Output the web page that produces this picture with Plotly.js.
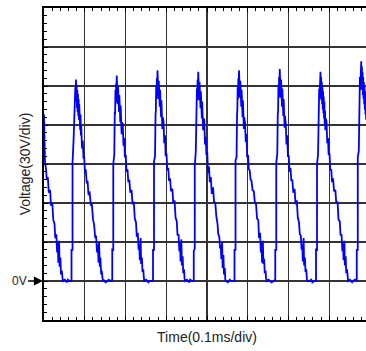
<!DOCTYPE html>
<html>
<head>
<meta charset="utf-8">
<script src="https://cdn.plot.ly/plotly-3.0.1.min.js"></script>
<style>
html,body{margin:0;padding:0;overflow:hidden;background:#fff;}
#chart{width:370px;height:351px;}
</style>
</head>
<body>
<div id="chart"></div>
<script>
// Time in microseconds (0.1 ms per division), voltage in volts (30 V per division)
var tPartial = [0,0.7,2.4,4.9,6.9,9.3,11.8,15,17.2,20.4,22.8,25.8,27.7,30.2,32.2,33.9,35.1,37.1,38.3,40.3,41.7,43.7,44.9,46.2,51,56,58.5,63.4];
var vPartial = [128,100,92,86,78,80,68,70,58,60,47,44,33,36,22,30,14,31,11,18,5,8,2,0,1,-1,1,0];

var tCycle0 = [67.5,67.5,70,70,72.5,73.7,74.5,75.3,76.1,76.9,77.7,78.5,79.3,80.1,80.9,81.7,82.5,83.3,84.1,84.9,85.7,86.5,87.3,88.1,88.9,89.7,90.5,91.3,93.3,95.1,97,98.5,100.7,102.4,104.9,106.9,109.3,111.8,115,117.2,120.4,122.8,125.8,127.7,130.2,132.2,133.9,135.1,137.1,138.3,140.3,141.7,143.7,144.9,146.2,151,156,158.5,163.4];
var vCycle0 = [0,24,24,91,108,120,126,143,134,149,140,155,138,151,133,147,130,144,127,140,124,136,120,133,116,128,112,120,102,108,94,96,83,86,75,77,66,69,58,60,47,44,33,35,22,28,14,30,11,18,5,8,2,0,1,-1,0,1,0];

var tCycle1 = [167.5,167.5,170,170,172.5,173.7,174.5,175.3,176.1,176.9,177.7,178.5,179.3,180.1,180.9,181.7,182.5,183.3,184.1,184.9,185.7,186.5,187.3,188.1,188.9,189.7,190.5,191.3,193.3,195.1,197,198.5,200.7,202.4,204.9,206.9,209.3,211.8,215,217.2,220.4,222.8,225.8,227.7,230.2,232.2,233.9,235.1,237.1,238.3,240.3,241.7,243.7,244.9,246.2,251,256,258.5,263.4];
var vCycle1 = [1,25,23,90,97,130,128,147,137,152,143,158,140,154,136,150,133,147,130,143,126,139,122,135,118,130,113,122,121,104,110,95,97,84,86,76,78,68,70,59,61,48,45,34,37,24,28,16,33,13,18,7,9,3,0,1,-1,0,0];

var tCycle2 = [267.5,267.5,270,270,272.5,273.7,274.5,275.3,276.1,276.9,277.7,278.5,279.3,280.1,280.9,281.7,282.5,283.3,284.1,284.9,285.7,286.5,287.3,288.1,288.9,289.7,290.5,291.3,293.3,295.1,297,298.5,300.7,302.4,304.9,306.9,309.3,311.8,315,317.2,320.4,322.8,325.8,327.7,330.2,332.2,333.9,335.1,337.1,338.3,340.3,341.7,343.7,344.9,346.2,351,356,358.5,363.4];
var vCycle2 = [0,24,24,92,96,128,131,150,140,156,146,162,144,158,140,154,137,151,134,147,130,144,126,139,121,134,117,126,123,106,112,96,98,85,87,77,79,69,71,60,62,49,46,35,36,23,29,15,32,12,19,6,9,2,0,1,-1,1,0];

var tCycle3 = [367.5,367.5,370,370,372.5,373.7,374.5,375.3,376.1,376.9,377.7,378.5,379.3,380.1,380.9,381.7,382.5,383.3,384.1,384.9,385.7,386.5,387.3,388.1,388.9,389.7,390.5,391.3,393.3,395.1,397,398.5,400.7,402.4,404.9,406.9,409.3,411.8,415,417.2,420.4,422.8,425.8,427.7,430.2,432.2,433.9,435.1,437.1,438.3,440.3,441.7,443.7,444.9,446.2,451,456,458.5,463.4];
var vCycle3 = [0,23,25,88,100,126,134,148,139,155,145,161,143,157,139,153,136,150,133,146,129,143,125,138,120,132,116,125,124,105,111,97,99,83,88,76,80,67,72,61,60,50,44,36,34,25,27,17,30,10,20,5,10,1,0,-1,1,0,0];

var tCycle4 = [467.5,467.5,470,470,472.5,473.7,474.5,475.3,476.1,476.9,477.7,478.5,479.3,480.1,480.9,481.7,482.5,483.3,484.1,484.9,485.7,486.5,487.3,488.1,488.9,489.7,490.5,491.3,493.3,495.1,497,498.5,500.7,502.4,504.9,506.9,509.3,511.8,515,517.2,520.4,522.8,525.8,527.7,530.2,532.2,533.9,535.1,537.1,538.3,540.3,541.7,543.7,544.9,546.2,551,556,558.5,563.4];
var vCycle4 = [0,24,24,93,95,127,132,149,140,156,146,162,145,158,141,154,137,151,134,147,130,144,126,139,121,133,117,126,122,107,113,95,97,86,85,78,77,70,69,61,59,48,47,33,37,22,30,14,31,13,17,6,8,2,0,1,0,-1,0];

var tCycle5 = [567.5,567.5,570,570,572.5,573.7,574.5,575.3,576.1,576.9,577.7,578.5,579.3,580.1,580.9,581.7,582.5,583.3,584.1,584.9,585.7,586.5,587.3,588.1,588.9,589.7,590.5,591.3,593.3,595.1,597,598.5,600.7,602.4,604.9,606.9,609.3,611.8,615,617.2,620.4,622.8,625.8,627.7,630.2,632.2,633.9,635.1,637.1,638.3,640.3,641.7,643.7,644.9,646.2,651,656,658.5,663.4];
var vCycle5 = [1,24,24,91,98,129,130,151,141,157,147,163,145,159,141,155,138,152,134,148,131,144,127,140,122,134,118,127,121,105,112,96,96,84,87,77,78,68,71,59,62,49,45,36,35,24,28,15,33,12,18,7,9,2,0,0,1,-1,0];

var tCycle6 = [667.5,667.5,670,670,672.5,673.7,674.5,675.3,676.1,676.9,677.7,678.5,679.3,680.1,680.9,681.7,682.5,683.3,684.1,684.9,685.7,686.5,687.3,688.1,688.9,689.7,690.5,691.3,693.3,695.1,697,698.5,700.7,702.4,704.9,706.9,709.3,711.8,715,717.2,720.4,722.8,725.8,727.7,730.2,732.2,733.9,735.1,737.1,738.3,740.3,741.7,743.7,744.9,746.2,751,756,758.5,763.4];
var vCycle6 = [0,25,23,90,97,128,133,148,140,155,145,161,143,157,139,153,136,149,132,146,129,142,125,138,120,131,116,125,123,106,110,97,98,85,86,76,79,69,70,60,61,47,46,35,36,23,29,16,31,12,19,6,9,3,0,1,-1,0,1];

var tCycle7 = [767.5,767.5,770,770,772.5,773.7,774.5,775.3,776.1,776.9,777.7,778.5,779.3,780.1,780.9,781.7,782.5,783.3,784.1,784.9,785.7,786.5,787.3,788.1,788.9,789.7,790.5,791.3,793.3];
var vCycle7 = [0,24,24,95,100,134,138,157,147,163,153,169,151,165,147,161,143,157,140,153,136,150,132,146,128,140,124,133,128];

var timeSeries = [].concat(tPartial,tCycle0,tCycle1,tCycle2,tCycle3,tCycle4,tCycle5,tCycle6,tCycle7);
var voltSeries = [].concat(vPartial,vCycle0,vCycle1,vCycle2,vCycle3,vCycle4,vCycle5,vCycle6,vCycle7);

var xTitle = 'Time(0.1ms/div)';
var yTitle = 'Voltage(30V/div)';
var zeroLabel = '0V';

var FONT = 'Arial, "Liberation Sans", Helvetica, sans-serif';

var trace = {
  x: timeSeries,
  y: voltSeries,
  type: 'scatter',
  mode: 'lines',
  line: {color: '#0000ff', width: 1.8},
  hoverinfo: 'skip',
  showlegend: false
};

var axisCommon = {
  showgrid: true,
  gridcolor: '#333',
  gridwidth: 1.4,
  zeroline: false,
  showline: true,
  linecolor: '#000',
  linewidth: 1.6,
  mirror: 'allticks',
  ticks: 'inside',
  ticklen: 4,
  tickcolor: '#000',
  showticklabels: false,
  fixedrange: true
};

var layout = {
  width: 370,
  height: 351,
  margin: {l: 44, r: 0, t: 8, b: 31, pad: 0},
  paper_bgcolor: '#fff',
  plot_bgcolor: '#fff',
  font: {family: FONT, color: '#222', size: 14},
  xaxis: Object.assign({}, axisCommon, {
    range: [0, 800],
    tick0: 0,
    dtick: 100,
    minor: {dtick: 20, ticks: 'inside', ticklen: 3, tickcolor: '#000', showgrid: false},
    title: {text: xTitle, font: {family: FONT, size: 14, color: '#222'}, standoff: 11}
  }),
  yaxis: Object.assign({}, axisCommon, {
    range: [-30, 210],
    tick0: 0,
    dtick: 30,
    minor: {dtick: 6, ticks: 'inside', ticklen: 3, tickcolor: '#000', showgrid: false},
    title: {text: yTitle, font: {family: FONT, size: 14, color: '#222'}, standoff: 8}
  }),
  annotations: [{
    x: 0, y: 0, xref: 'x', yref: 'y',
    text: zeroLabel,
    showarrow: true,
    ax: -25, ay: 0,
    arrowhead: 2,
    arrowsize: 1.4,
    arrowwidth: 1.3,
    arrowcolor: '#000',
    standoff: 1,
    font: {family: FONT, size: 12, color: '#222'}
  }]
};

Plotly.newPlot('chart', [trace], layout, {displayModeBar: false, staticPlot: true});
</script>
</body>
</html>
